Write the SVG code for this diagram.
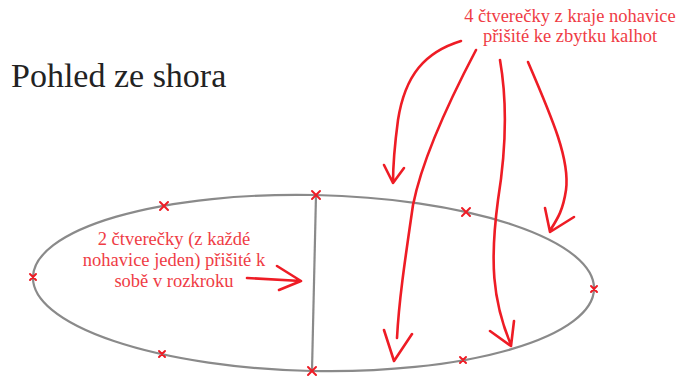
<svg xmlns="http://www.w3.org/2000/svg" width="677" height="377" viewBox="0 0 677 377">
<style>
.shape{fill:none;stroke:#8a8a8a;stroke-width:2.2}
.arr{fill:none;stroke:#ee1c25;stroke-width:2.6;stroke-linecap:round;stroke-linejoin:round}
.x{stroke:#ee1c25;stroke-width:2;stroke-linecap:round}
.lbl{font-family:"Liberation Serif",serif;font-size:18.5px;fill:#ef3c45;text-anchor:middle}
.title{font-family:"Liberation Serif",serif;font-size:34px;fill:#222}
</style>
<rect width="677" height="377" fill="#fff"/>
<g id="title"><text class="title" x="11" y="87">Pohled ze shora</text></g>
<g id="outline">
<ellipse class="shape" cx="313.5" cy="283" rx="280.6" ry="88" transform="rotate(1.2 313.5 283)"/>
<line class="shape" x1="316" y1="195" x2="312" y2="371"/>
</g>
<g id="marks">
<path class="x" d="M160,202l8,8M168,202l-8,8"/>
<path class="x" d="M312,191l8,8M320,191l-8,8"/>
<path class="x" d="M462,208l8,8M470,208l-8,8"/>
<path class="x" d="M30,274l6,6M36,274l-6,6"/>
<path class="x" d="M591,286l6,6M597,286l-6,6"/>
<path class="x" d="M159,351l6,6M165,351l-6,6"/>
<path class="x" d="M460,357l6,6M466,357l-6,6"/>
<path class="x" d="M308,367l8,8M316,367l-8,8"/>
</g>
<g id="label-top">
<text class="lbl" x="570" y="22">4 čtverečky z kraje nohavice</text>
<text class="lbl" x="570" y="42">přišité ke zbytku kalhot</text>
</g>
<g id="label-left">
<text class="lbl" x="174" y="245">2 čtverečky (z každé</text>
<text class="lbl" x="174" y="266">nohavice jeden) přišité k</text>
<text class="lbl" x="174" y="287">sobě v rozkroku</text>
</g>
<g id="connectors">
<path class="arr" d="M461,41C425,52 405,75 398,120C394,150 393,165 393,183M384,165L393,183L404,168"/>
<path class="arr" d="M476,50C447,105 422,160 413,205C405,260 399,300 397,338M384,330L394,361L412,334"/>
<path class="arr" d="M500,60C507,100 506,150 498,200C490,260 492,300 511,345M490,331L511,346L514,321"/>
<path class="arr" d="M528,62C553,120 570,160 566,190C563,210 558,218 551,229M545,208L550,232L574,217"/>
<path class="arr" d="M247,278L301,281M277,266L301,281L279,290"/>
</g>
</svg>
